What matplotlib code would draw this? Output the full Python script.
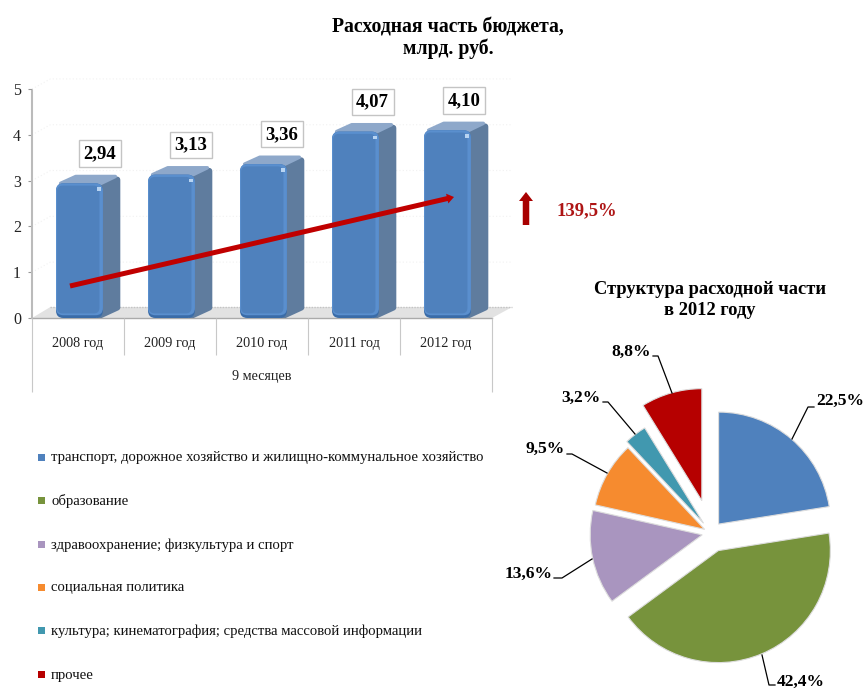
#!/usr/bin/env python3

import matplotlib.pyplot as plt
from matplotlib.patches import FancyBboxPatch, Polygon, Rectangle

plt.rcParams['font.family'] = ['Liberation Serif', 'DejaVu Serif']

years = ['2008 год', '2009 год', '2010 год', '2011 год', '2012 год']
spending = [2.94, 3.13, 3.36, 4.07, 4.10]
spending_labels = ['2,94', '3,13', '3,36', '4,07', '4,10']

shares = [22.5, 42.4, 13.6, 9.5, 3.2, 8.8]
share_labels = ['22,5%', '42,4%', '13,6%', '9,5%', '3,2%', '8,8%']
share_names = ['транспорт, дорожное хозяйство и жилищно-коммунальное хозяйство',
               'образование',
               'здравоохранение; физкультура и спорт',
               'социальная политика',
               'культура; кинематография; средства массовой информации',
               'прочее']
share_colors = ['#4F81BD', '#77933C', '#A995BF', '#F68B2F', '#4198AF', '#B60000']
explode = [0.078, 0.127, 0.06, 0.049, 0.082, 0.224]

W, H = 864, 690
fig = plt.figure(figsize=(W / 100, H / 100), dpi=100)

# bar chart, x unit = 92 px, y unit = 45.8 px
ax = fig.add_axes([32 / W, (H - 318) / H, 460 / W, 229 / H])
ax.set_xlim(-0.5, 4.5)
ax.set_ylim(0, 5)
ax.patch.set_visible(False)
for s in ['top', 'right', 'bottom']:
    ax.spines[s].set_visible(False)
ax.spines['left'].set_linestyle((0, (1, 1)))
ax.spines['left'].set_color('#bbbbbb')
ax.spines['left'].set_linewidth(1.5)
ax.set_yticks(range(6))
ax.tick_params(axis='y', labelsize=11.5, length=3, color='#999999', labelcolor='#222222', pad=5)
ax.set_xticks(range(5))
ax.set_xticklabels(years, fontsize=10.3, color='#222222')
ax.tick_params(axis='x', length=0, pad=14)

dx, dy = 0.185, 0.2
w = 0.51

# floor and faint back grid
ax.add_patch(Polygon([(-0.5, 0), (4.5, 0), (4.5 + 0.22, 0.24), (-0.5 + 0.2, 0.24)],
                     closed=True, fc='#E2E2E2', ec='none', clip_on=False, zorder=1))
for g in range(1, 6):
    ax.plot([-0.5, -0.3, 4.72], [g, g + 0.22, g + 0.22], color='#F1F1F1', lw=0.8,
            ls=(0, (1, 2)), clip_on=False, zorder=1)
ax.plot([-0.3, 4.72], [0.24, 0.24], color='#C4C4C4', lw=1, ls=(0, (1, 1)), clip_on=False, zorder=1)
ax.plot([-0.5, 4.5], [0, 0], color='#AAAAAA', lw=1, clip_on=False, zorder=2)

# category table lines under the axis
ax.vlines([-0.5, 4.5], -1.62, 0, color='#C8C8C8', lw=0.8, clip_on=False)
ax.vlines([0.5, 1.5, 2.5, 3.5], -0.8, 0, color='#C8C8C8', lw=0.8, clip_on=False)
ax.annotate('9 месяцев', (2.0, -1.27), ha='center', va='center', fontsize=10.2,
            color='#222222', annotation_clip=False)

for i, v in enumerate(spending):
    c = i + 0.016
    l, r = c - w / 2, c + w / 2
    ax.add_patch(Polygon([(r - 0.04, 0.05), (r + dx - 0.03, dy + 0.03), (r + dx - 0.03, v + dy - 0.12),
                          (r - 0.04, v - 0.1)], closed=True, fc='#5F7C9E', ec='#5F7C9E', lw=4.5,
                         joinstyle='round', zorder=3))
    ax.add_patch(Polygon([(l + 0.05, v), (l + dx + 0.03, v + dy - 0.05), (r + dx - 0.05, v + dy - 0.05),
                          (r - 0.02, v)], closed=True, fc='#8EA8CA', ec='#8EA8CA', lw=2.5,
                         joinstyle='round', zorder=3))
    ax.add_patch(FancyBboxPatch((l, 0), w, v, boxstyle='round,pad=0,rounding_size=0.08',
                                mutation_aspect=2.0, fc='#3A6CA8', ec='none', zorder=4))
    ax.add_patch(FancyBboxPatch((l, 0.06), w, v - 0.06, boxstyle='round,pad=0,rounding_size=0.08',
                                mutation_aspect=2.0, fc='#5A8FCE', ec='none', zorder=5))
    ax.add_patch(FancyBboxPatch((l + 0.012, 0.1), w - 0.05, v - 0.15, boxstyle='round,pad=0,rounding_size=0.06',
                                mutation_aspect=2.0, fc='#4F81BD', ec='none', zorder=6))
    ax.add_patch(Rectangle((r - 0.06, v - 0.17), 0.035, 0.08, fc='#B8D4F2', ec='none', zorder=7))
    ax.annotate(spending_labels[i], (c, v), xytext=(14.5 - 0.7 * i, 21.5), textcoords='offset points',
                ha='center', va='center', fontsize=13.5, fontweight='bold', color='black', zorder=8,
                bbox=dict(boxstyle='square,pad=0.25', fc='white', ec='#C4C4C4', lw=1))

# pie, centred at about (711, 533) px with a radius of 112 px
pax = fig.add_axes([561 / W, (H - 683) / H, 300 / W, 300 / H])
wedges, _ = pax.pie(shares, explode=explode, colors=share_colors, startangle=90,
                    counterclock=False, radius=112 / 150,
                    wedgeprops=dict(edgecolor='#DDDDDD', linewidth=0.8))
pax.set_xlim(-1, 1)
pax.set_ylim(-1, 1)

# overlay in pixels for titles, legend and leader lines
ov = fig.add_axes([0, 0, 1, 1], zorder=10)
ov.set_xlim(0, W)
ov.set_ylim(H, 0)
ov.axis('off')

ov.text(448, 38, 'Расходная часть бюджета,\nмлрд. руб.', ha='center', va='center',
        fontsize=14.2, fontweight='bold', linespacing=1.08)
ov.text(710, 300, 'Структура расходной части\nв 2012 году', ha='center', va='center',
        fontsize=13.3, fontweight='bold', linespacing=1.3)

# trend arrow and growth arrow
ov.arrow(70, 286, 384, -89, width=5, head_width=10, head_length=7, length_includes_head=True,
         fc='#C00000', ec='none')
ov.arrow(526, 225, 0, -33, width=6.5, head_width=14, head_length=9, length_includes_head=True,
         fc='#A80000', ec='none')
ov.text(557, 211, '139,5%', ha='left', va='center', fontsize=13.4, fontweight='bold', color='#AE1515')

# legend
legend_y = [457, 500, 544, 587, 630, 674]
for name, color, y in zip(share_names, share_colors, legend_y):
    ov.add_patch(Rectangle((38, y - 3.5), 7, 7, fc=color, ec='none'))
    ov.text(51, y + 1, name, ha='left', va='center', fontsize=10.65, color='#111111')

# pie labels and leader lines
leaders = [[(792, 439), (808, 407), (814, 407)],
           [(762, 655), (769, 685), (775, 685)],
           [(592, 559), (562, 578), (554, 578)],
           [(607, 473), (572, 454), (567, 454)],
           [(635, 434), (608, 402), (603, 402)],
           [(672, 393), (658, 356), (653, 356)]]
label_pos = [(816, 401, 'left'), (777, 682, 'left'), (553, 574, 'right'),
             (565, 449, 'right'), (601, 398, 'right'), (651, 352, 'right')]
for lab, pts, (x, y, ha) in zip(share_labels, leaders, label_pos):
    ov.plot([p[0] for p in pts], [p[1] for p in pts], color='black', lw=0.9)
    ov.text(x, y, lab, ha=ha, va='center', fontsize=12.6, fontweight='bold', color='black')

fig.savefig('out.png', dpi=100)
